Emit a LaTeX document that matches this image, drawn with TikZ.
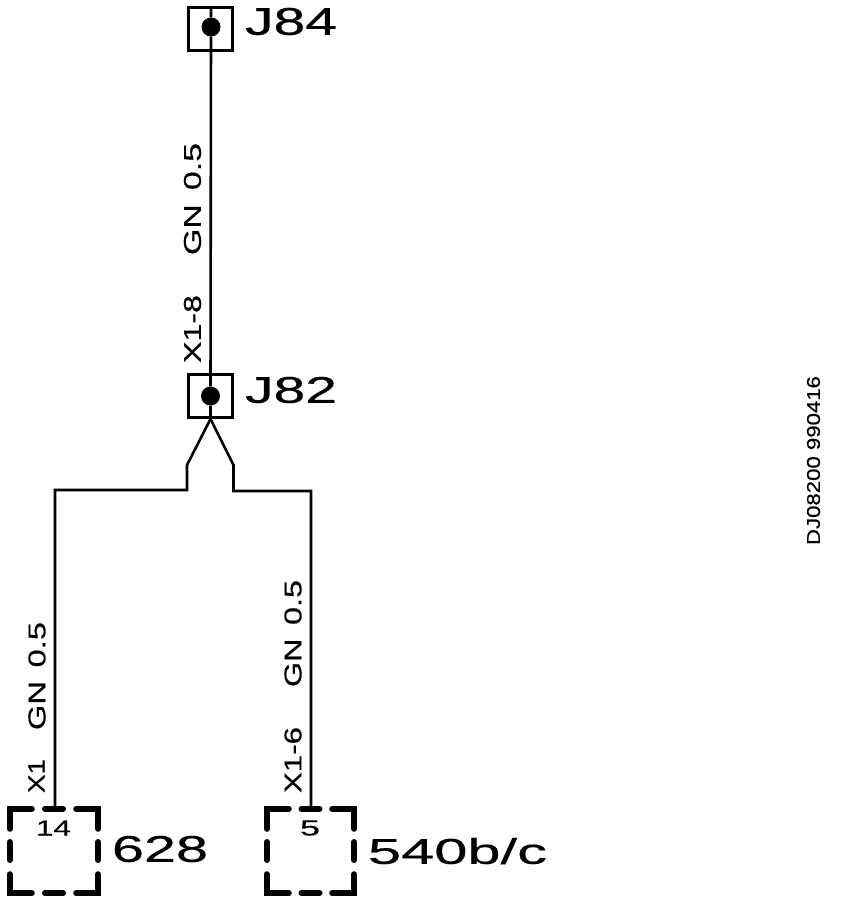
\documentclass[tikz,border=0pt]{standalone}
\usepackage{graphicx}
\usepackage{fontspec}
\setmainfont[FakeBold=0.4]{Liberation Sans}
\newcommand{\fit}[3]{\resizebox{#1pt}{#2pt}{#3}}
\newcommand{\gnlabel}{GN\hspace{0.42em}0.5}
\tikzset{
  wire/.style={line width=2.6pt,black},
  jbox/.style={draw=black,line width=3pt,rectangle,minimum width=44pt,minimum height=43pt,inner sep=0pt},
  jdot/.style={circle,fill=black,minimum size=19pt,inner sep=0pt},
  lbl/.style={inner sep=0pt,black},
  vlbl/.style={inner sep=0pt,black,rotate=90},
  dashseg/.style={line width=6pt,black,line cap=round,line join=miter},
}
\begin{document}
\begin{tikzpicture}[x=1pt,y=-1pt]
\useasboundingbox (0,0) rectangle (864,914);
\fill[white] (0,0) rectangle (864,914);
% junctions
\node[jbox] (j84) at (210.5,29) {};
\node[jbox] (j82) at (210.5,396) {};
\node[jdot] (d84) at (211,27) {};
\node[jdot] (d82) at (210.5,396) {};
\node[lbl] (t84) at (291,21.5) {\fit{92}{27}{J84}};
\node[lbl] (t82) at (291,390) {\fit{92}{26}{J82}};
% connector boxes (corner and side dashes)
\node[inner sep=0pt,minimum width=88pt,minimum height=84pt] (b628) at (54,851) {};
\node[inner sep=0pt,minimum width=87pt,minimum height=84pt] (b540) at (310.5,851) {};
\foreach \b in {b628,b540}{
  \draw[dashseg] ([yshift=-20pt]\b.north west) -- (\b.north west) -- ([xshift=22pt]\b.north west);
  \draw[dashseg] ([xshift=-22pt]\b.north east) -- (\b.north east) -- ([yshift=-20pt]\b.north east);
  \draw[dashseg] ([yshift=19pt]\b.south west) -- (\b.south west) -- ([xshift=22pt]\b.south west);
  \draw[dashseg] ([xshift=-22pt]\b.south east) -- (\b.south east) -- ([yshift=19pt]\b.south east);
  \draw[dashseg] ([xshift=-9pt]\b.north) -- ([xshift=9pt]\b.north);
  \draw[dashseg] ([xshift=-9pt]\b.south) -- ([xshift=9pt]\b.south);
  \draw[dashseg] ([yshift=-9pt]\b.west) -- ([yshift=9pt]\b.west);
  \draw[dashseg] ([yshift=-9pt]\b.east) -- ([yshift=9pt]\b.east);
}
% route points
\coordinate (top84) at (211,8);
\coordinate (la) at (187,465);
\coordinate (lb) at (187,490);
\coordinate (lc) at (55,490);
\coordinate (ld) at (55,808);
\coordinate (ra) at (233.5,465);
\coordinate (rb) at (233.5,491);
\coordinate (rc) at (311,491);
\coordinate (rd) at (311,808);
\coordinate (fork) at (210.5,419);
% wires
\draw[wire] (top84) -- (d84) -- (d82) -- (fork);
\draw[wire,line join=miter] (fork) -- (la) -- (lb) -- (lc) -- (ld);
\draw[wire,line join=miter] (fork) -- (ra) -- (rb) -- (rc) -- (rd);
% wire labels
\node[vlbl] (g1) at (192.5,199) {\fit{112}{17}{\gnlabel}};
\node[vlbl] (x1) at (192.5,329) {\fit{68}{17}{X1-8}};
\node[vlbl] (g2) at (37,676) {\fit{108}{17}{\gnlabel}};
\node[vlbl] (x2) at (36.5,776) {\fit{34}{16}{X1}};
\node[vlbl] (g3) at (293,633.5) {\fit{107}{17}{\gnlabel}};
\node[vlbl] (x3) at (293,760) {\fit{66}{17}{X1-6}};
\node[vlbl] (dj) at (813.5,460.5) {\fit{169}{13}{DJ08200 990416}};
% pin and device labels
\node[lbl] (p14) at (53.5,828) {\fit{35}{15}{14}};
\node[lbl] (p5) at (310,828) {\fit{20}{15}{5}};
\node[lbl] (t628) at (160,849) {\fit{96}{26}{628}};
\node[lbl] (t540) at (457.5,851) {\fit{179}{26}{540b/c}};
\end{tikzpicture}
\end{document}
